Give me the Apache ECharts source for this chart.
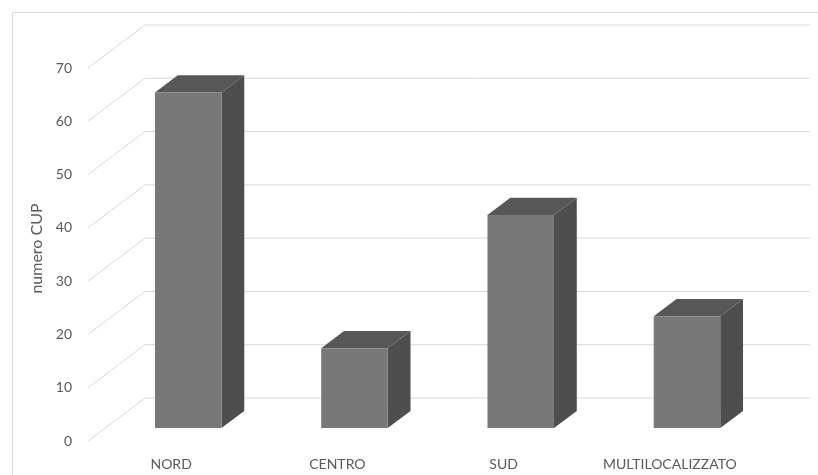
<!DOCTYPE html>
<html>
<head>
<meta charset="utf-8">
<script src="https://cdn.jsdelivr.net/npm/echarts@6/dist/echarts.min.js"></script>
<style>
  html, body { margin: 0; padding: 0; background: #ffffff; }
  #chart { width: 818px; height: 475px; }
</style>
</head>
<body>
<div id="chart"></div>
<script>
// Numero di CUP per area geografica
const categories = ['NORD', 'CENTRO', 'SUD', 'MULTILOCALIZZATO'];
const cupCounts = [63, 15, 40, 21];
const yTicks = [0, 10, 20, 30, 40, 50, 60, 70];

// Oblique projection of the floor depth (pixels from front edge to back wall)
const DEPTH_X = 57;
const DEPTH_Y = 43;
// Column depth placement as fractions of the floor depth
const COL_FRONT = 0.3;
const COL_BACK = 0.7;
const COL_HALF_WIDTH = 0.2; // fraction of the category band

const FONT = 'Lato, "Open Sans", sans-serif';
const TEXT_COLOR = '#595959';
const GRID_COLOR = '#d9d9d9';

const chart = echarts.init(document.getElementById('chart'), null, { renderer: 'canvas' });

// Side wall diagonals + back wall horizontals for each value tick
function renderWall(params, api) {
  const cs = params.coordSys;
  const y = api.coord([0, api.value(1)])[1];
  return {
    type: 'polyline',
    shape: {
      points: [
        [cs.x, y],
        [cs.x + DEPTH_X, y - DEPTH_Y],
        [cs.x + cs.width + DEPTH_X, y - DEPTH_Y]
      ]
    },
    style: { stroke: GRID_COLOR, lineWidth: 1, fill: null },
    silent: true
  };
}

// Cuboid column: front face, right side face and top face
function renderColumn(params, api) {
  const idx = api.value(0);
  const val = api.value(1);
  const base = api.coord([idx, 0]);
  const top = api.coord([idx, val]);
  const band = api.size([1, 0])[0];
  const hw = band * COL_HALF_WIDTH;
  const fx = DEPTH_X * COL_FRONT, fy = DEPTH_Y * COL_FRONT;
  const bx = DEPTH_X * COL_BACK, by = DEPTH_Y * COL_BACK;

  const fl = base[0] - hw + fx;
  const fr = base[0] + hw + fx;
  const ftop = top[1] - fy;
  const fbot = base[1] - fy;
  const dx = bx - fx, dy = by - fy;

  return {
    type: 'group',
    children: [
      {
        type: 'polygon',
        shape: { points: [[fr, ftop], [fr + dx, ftop - dy], [fr + dx, fbot - dy], [fr, fbot]] },
        style: { fill: '#4e4e4e' }
      },
      {
        type: 'polygon',
        shape: { points: [[fl, ftop], [fr, ftop], [fr + dx, ftop - dy], [fl + dx, ftop - dy]] },
        style: { fill: '#575757' }
      },
      {
        type: 'rect',
        shape: { x: fl, y: ftop, width: fr - fl, height: fbot - ftop },
        style: { fill: '#787878' }
      }
    ]
  };
}

chart.setOption({
  backgroundColor: '#ffffff',
  animation: false,
  graphic: [
    {
      type: 'rect',
      left: 10, top: 10,
      shape: { width: 830, height: 490 },
      style: { fill: null, stroke: GRID_COLOR, lineWidth: 1 },
      silent: true
    }
  ],
  grid: { left: 88, right: 65, top: 68, bottom: 34 },
  xAxis: {
    type: 'category',
    data: categories,
    axisLine: { show: false },
    axisTick: { show: false },
    splitLine: { show: false },
    axisLabel: { color: TEXT_COLOR, fontFamily: FONT, fontSize: 14, margin: 16, interval: 0, hideOverlap: false }
  },
  yAxis: {
    type: 'value',
    min: 0,
    max: 70,
    interval: 10,
    name: 'numero CUP',
    nameLocation: 'middle',
    nameRotate: 90,
    nameGap: 41,
    nameTextStyle: { color: TEXT_COLOR, fontFamily: FONT, fontSize: 16, padding: [0, 0, 0, 12] },
    axisLine: { show: false },
    axisTick: { show: false },
    splitLine: { show: false },
    axisLabel: {
      color: TEXT_COLOR, fontFamily: FONT, fontSize: 14, margin: 16,
      customValues: yTicks
    }
  },
  series: [
    {
      type: 'custom',
      name: 'wall',
      clip: false,
      silent: true,
      z: 1,
      renderItem: renderWall,
      data: yTicks.map(v => [0, v]),
      encode: { x: 0, y: 1 }
    },
    {
      type: 'custom',
      name: 'numero CUP',
      clip: false,
      z: 2,
      renderItem: renderColumn,
      data: cupCounts.map((v, i) => [i, v]),
      encode: { x: 0, y: 1 }
    }
  ]
});
</script>
</body>
</html>
